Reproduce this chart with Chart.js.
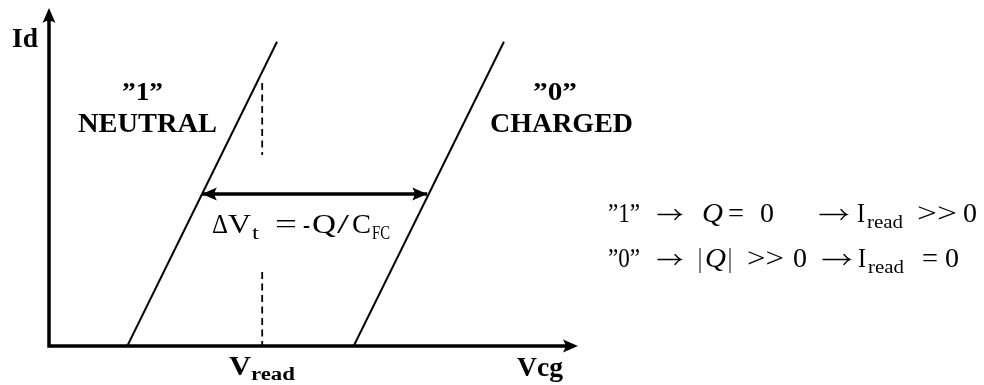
<!DOCTYPE html>
<html>
<head>
<meta charset="utf-8">
<script src="https://cdn.jsdelivr.net/npm/chart.js@4/dist/chart.umd.min.js"></script>
<style>
  html, body { margin: 0; padding: 0; background: #fff; }
</style>
</head>
<body>
<canvas id="myChart" width="984" height="385"></canvas>
<script>
// Id-Vcg characteristics, arbitrary units (0..100 on both axes)
var neutralVcg = [14.8, 43.1];
var neutralId = [0, 90];
var chargedVcg = [57.6, 86.0];
var chargedId = [0, 90];
var vRead = 40.3;
var vReadUpperId = [77.8, 56.5];
var vReadLowerId = [21.9, 0];
var shiftVcg = [28.9, 71.5];
var shiftId = 45;

function points(xs, ys) {
    var out = [];
    for (var i = 0; i < xs.length; i++) {
        out.push({ x: xs[i], y: ys[i] });
    }
    return out;
}

var SERIF = '"Liberation Serif", "DejaVu Serif", serif';

// draw a piece of text stretched to a given width
function txt(ctx, text, style, size, x, y, width) {
    ctx.font = style + ' ' + size + 'px ' + SERIF;
    var w = ctx.measureText(text).width;
    ctx.save();
    ctx.translate(x, y);
    if (width) ctx.scale(width / w, 1);
    ctx.fillText(text, 0, 0);
    ctx.restore();
}

// a "\to" arrow inside a line of text
function toArrow(ctx, x1, x2, baseline) {
    var y = baseline - 7.5;
    ctx.save();
    ctx.lineWidth = 1.3;
    ctx.lineCap = 'round';
    ctx.beginPath();
    ctx.moveTo(x1, y);
    ctx.lineTo(x2, y);
    ctx.moveTo(x2 - 6, y - 5);
    ctx.quadraticCurveTo(x2 - 3, y - 1, x2, y);
    ctx.quadraticCurveTo(x2 - 3, y + 1, x2 - 6, y + 5);
    ctx.stroke();
    ctx.restore();
}

// stealth-like arrow head, tip at (x, y), pointing along angle
function head(ctx, x, y, angle, len, half) {
    ctx.save();
    ctx.translate(x, y);
    ctx.rotate(angle);
    ctx.beginPath();
    ctx.moveTo(0, 0);
    ctx.lineTo(-len, -half);
    ctx.quadraticCurveTo(-len * 0.7, 0, -len, half);
    ctx.closePath();
    ctx.fill();
    ctx.restore();
}

var sketchPlugin = {
    id: 'sketch',
    afterDatasetsDraw: function (chart) {
        var ctx = chart.ctx;
        var xs = chart.scales.x, ys = chart.scales.y;
        var a = chart.chartArea;
        ctx.save();
        ctx.fillStyle = '#000';
        ctx.strokeStyle = '#000';

        // axes
        ctx.lineWidth = 3.5;
        ctx.lineCap = 'butt';
        ctx.beginPath();
        ctx.moveTo(a.left, a.top + 10);
        ctx.lineTo(a.left, a.bottom);
        ctx.lineTo(a.right - 10, a.bottom);
        ctx.stroke();
        head(ctx, a.left, a.top, -Math.PI / 2, 15, 6.5);
        head(ctx, a.right, a.bottom, 0, 15, 6.5);

        // threshold shift arrow heads
        var yA = ys.getPixelForValue(shiftId);
        head(ctx, xs.getPixelForValue(shiftVcg[0]), yA, Math.PI, 15, 6.5);
        head(ctx, xs.getPixelForValue(shiftVcg[1]), yA, 0, 15, 6.5);

        ctx.textBaseline = 'alphabetic';
        // axis labels
        txt(ctx, 'Id', 'bold', 27, 12, 47, 26);
        txt(ctx, 'V', 'bold', 28, 229, 375, 22);
        txt(ctx, 'read', 'bold', 18, 251, 380, 44);
        txt(ctx, 'Vcg', 'bold', 27, 517, 376, 46);

        // state labels
        txt(ctx, '\u201D1\u201D', 'bold', 26, 122, 100, 41);
        txt(ctx, 'NEUTRAL', 'bold', 28, 78, 132, 139);
        txt(ctx, '\u201D0\u201D', 'bold', 26, 533, 100, 44);
        txt(ctx, 'CHARGED', 'bold', 28, 490, 132, 143);

        // delta Vt
        txt(ctx, '\u0394', 'normal', 28, 212, 233, 16);
        txt(ctx, 'V', 'normal', 28, 228, 233, 23);
        txt(ctx, 't', 'normal', 19, 252, 239, 7);
        txt(ctx, '=', 'normal', 28, 275, 233, 22);
        txt(ctx, '-', 'normal', 28, 303, 233, 7);
        txt(ctx, 'Q', 'normal', 28, 312, 233, 24);
        txt(ctx, '/', 'normal', 28, 337, 233, 12);
        txt(ctx, 'C', 'normal', 28, 352, 233, 19);
        txt(ctx, 'FC', 'normal', 19, 372, 239, 18);

        // read-out rules
        var b1 = 222, b2 = 267;
        txt(ctx, '\u201D1\u201D', 'normal', 28, 608, b1, 32);
        toArrow(ctx, 658, 681, b1);
        txt(ctx, 'Q', 'italic', 28, 702, b1, 21);
        txt(ctx, '=', 'normal', 28, 728, b1, 16);
        txt(ctx, '0', 'normal', 28, 760, b1, 14);
        toArrow(ctx, 820, 847, b1);
        txt(ctx, 'I', 'normal', 28, 857, b1, 8);
        txt(ctx, 'read', 'normal', 19, 867, b1 + 6, 36);
        txt(ctx, '>>', 'normal', 28, 917, b1, 40);
        txt(ctx, '0', 'normal', 28, 963, b1, 14);

        txt(ctx, '\u201D0\u201D', 'normal', 28, 608, b2, 32);
        toArrow(ctx, 658, 681, b2);
        txt(ctx, '|', 'normal', 28, 698, b2, 4);
        txt(ctx, 'Q', 'italic', 28, 705, b2, 21);
        txt(ctx, '|', 'normal', 28, 728, b2, 4);
        txt(ctx, '>>', 'normal', 28, 747, b2, 37);
        txt(ctx, '0', 'normal', 28, 793, b2, 14);
        toArrow(ctx, 823, 850, b2);
        txt(ctx, 'I', 'normal', 28, 858, b2, 8);
        txt(ctx, 'read', 'normal', 19, 868, b2 + 6, 36);
        txt(ctx, '=', 'normal', 28, 922, b2, 16);
        txt(ctx, '0', 'normal', 28, 945, b2, 14);

        ctx.restore();
    }
};

var ctx = document.getElementById('myChart').getContext('2d');
var myChart = new Chart(ctx, {
    type: 'scatter',
    data: {
        datasets: [
            {
                label: 'neutral',
                data: points(neutralVcg, neutralId),
                showLine: true,
                borderColor: '#000',
                borderWidth: 2,
                pointRadius: 0
            },
            {
                label: 'charged',
                data: points(chargedVcg, chargedId),
                showLine: true,
                borderColor: '#000',
                borderWidth: 2,
                pointRadius: 0
            },
            {
                label: 'vread upper',
                data: points([vRead, vRead], vReadUpperId),
                showLine: true,
                borderColor: '#000',
                borderWidth: 1.8,
                borderDash: [7, 4.5],
                pointRadius: 0
            },
            {
                label: 'vread lower',
                data: points([vRead, vRead], vReadLowerId),
                showLine: true,
                borderColor: '#000',
                borderWidth: 1.8,
                borderDash: [7, 4.5],
                pointRadius: 0
            },
            {
                label: 'shift',
                data: points(shiftVcg, [shiftId, shiftId]),
                showLine: true,
                borderColor: '#000',
                borderWidth: 3.5,
                pointRadius: 0
            }
        ]
    },
    options: {
        responsive: false,
        devicePixelRatio: 1,
        animation: false,
        layout: {
            padding: { left: 49, top: 8, right: 406, bottom: 39 }
        },
        plugins: {
            legend: { display: false },
            tooltip: { enabled: false }
        },
        elements: { line: { tension: 0 } },
        scales: {
            x: { type: 'linear', min: 0, max: 100, display: false },
            y: { type: 'linear', min: 0, max: 100, display: false }
        }
    },
    plugins: [sketchPlugin]
});
</script>
</body>
</html>
